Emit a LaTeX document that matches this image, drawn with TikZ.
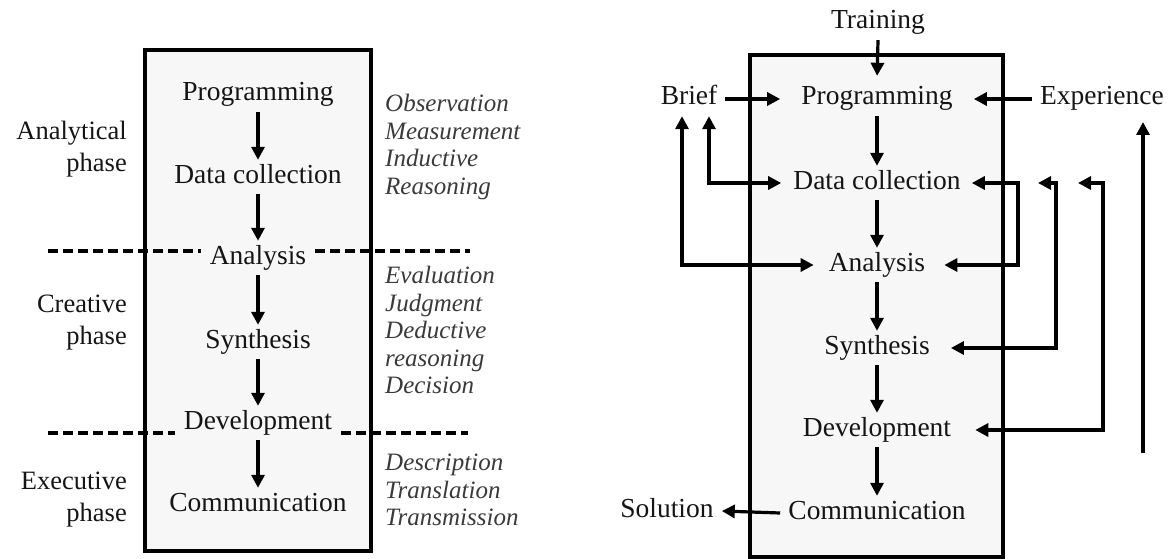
\documentclass[tikz,border=0pt]{standalone}
\usepackage{fontspec}
\setmainfont{Liberation Serif}
\usetikzlibrary{arrows.meta}
\definecolor{boxfill}{HTML}{F7F7F7}
\definecolor{ink}{HTML}{151515}
\definecolor{soft}{HTML}{3A3A3A}
\begin{document}
\begin{tikzpicture}[x=1pt,y=-1pt,
  stage/.style={font=\fontsize{27.5}{32}\selectfont, text=ink, text height=18pt, text depth=6pt, inner xsep=9pt, inner ysep=5pt},
  rstage/.style={stage, inner xsep=8pt},
  phase/.style={font=\fontsize{26.5}{32}\selectfont, text=ink, align=right, anchor=east, inner sep=0pt},
  skills/.style={font=\fontsize{25}{27.5}\selectfont\itshape, text=soft, align=left, anchor=west, inner sep=0pt},
  frame/.style={draw=black, fill=boxfill, line width=3.5pt},
  tip/.tip={Triangle[length=13pt,width=13pt]},
  flow/.style={line width=3.2pt, -tip},
  both/.style={line width=3.2pt, tip-tip},
  divider/.style={line width=4pt, dash pattern=on 10pt off 5pt}
]
\useasboundingbox (0,0) rectangle (1172,559);

% ---------- phases of the design process ----------
\draw[frame] (145,50) rectangle (371,551);
\node[stage] (lp)  at (258,95)  {Programming};
\node[stage] (ld)  at (258,177) {Data collection};
\node[stage] (la)  at (258,258) {Analysis};
\node[stage] (ls)  at (258,342) {Synthesis};
\node[stage] (ldv) at (258,423) {Development};
\node[stage] (lc)  at (258,505) {Communication};

\draw[flow] (lp.south)  -- (ld.north);
\draw[flow] (ld.south)  -- (la.north);
\draw[flow] (la.south)  -- (ls.north);
\draw[flow] (ls.south)  -- (ldv.north);
\draw[flow] (ldv.south) -- (lc.north);

\coordinate (d1a) at (48,251);  \coordinate (d1b) at (470,251);
\coordinate (d2a) at (48,433);  \coordinate (d2b) at (468,433);
\draw[divider] (d1a) -- (la.west |- d1a);
\draw[divider] (la.east |- d1b) -- (d1b);
\draw[divider] (d2a) -- (ldv.west |- d2a);
\draw[divider] (ldv.east |- d2b) -- (d2b);

\node[phase] (ph1) at (127,149) {Analytical\\phase};
\node[phase] (ph2) at (127,323) {Creative\\phase};
\node[phase] (ph3) at (127,500) {Executive\\phase};

\node[skills] (sk1) at (385,147) {Observation\\Measurement\\Inductive\\Reasoning};
\node[skills] (sk2) at (385,330) {Evaluation\\Judgment\\Deductive\\reasoning\\Decision};
\node[skills] (sk3) at (385,490) {Description\\Translation\\Transmission};

% ---------- inputs, feedback and output ----------
\draw[frame] (750,55) rectangle (1003,557);
\node[rstage] (rp)  at (877,99)  {Programming};
\node[rstage] (rd)  at (877,183) {Data collection};
\node[rstage] (ra)  at (877,265) {Analysis};
\node[rstage] (rs)  at (877,348) {Synthesis};
\node[rstage] (rdv) at (877,430) {Development};
\node[rstage] (rc)  at (877,513) {Communication};

\node[rstage] (training) at (878,23)  {Training};
\node[rstage] (brief)    at (689,99)  {Brief};
\node[rstage] (exp)      at (1102,99) {Experience};
\node[rstage] (sol)      at (667,511) {Solution};

\draw[flow] (rp.south)  -- (rd.north);
\draw[flow] (rd.south)  -- (ra.north);
\draw[flow] (ra.south)  -- (rs.north);
\draw[flow] (rs.south)  -- (rdv.north);
\draw[flow] (rdv.south) -- (rc.north);

\draw[flow, shorten >=6pt] (training.south) -- (rp.north);
\draw[flow] (brief.east) -- ([xshift=-13pt]rp.west);
\draw[flow] (exp.west) -- ([xshift=13pt]rp.east);
\draw[flow] (rc.west) -- (sol.east);

\draw[both] ([xshift=20pt]brief.south) |- ([xshift=-4pt]rd.west);
\draw[both] ([xshift=-7pt]brief.south) |- ([xshift=-7pt]ra.west);

\coordinate (k1) at (1018,183);
\draw[both] ([xshift=3pt]rd.east) -- (k1) |- ([xshift=11pt]ra.east);
\coordinate (t2) at (1038,183);  \coordinate (k2) at (1056,183);
\draw[both] (t2) -- (k2) |- ([xshift=13pt]rs.east);
\coordinate (t3) at (1078,183);  \coordinate (k3) at (1103,183);
\draw[both] (t3) -- (k3) |- ([xshift=16pt]rdv.east);

\coordinate (e0) at (1143,453);  \coordinate (e1) at (1143,122);
\draw[flow] (e0) -- (e1);
\end{tikzpicture}
\end{document}
